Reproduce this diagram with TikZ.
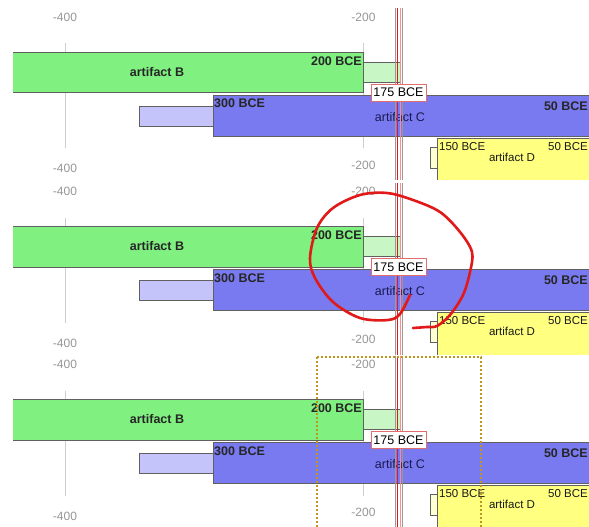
\documentclass[tikz,border=0pt]{standalone}
\usepackage{fontspec}
\setmainfont{Liberation Sans}
\definecolor{barG}{RGB}{128,240,128}
\definecolor{lightG}{RGB}{200,246,196}
\definecolor{barC}{RGB}{122,122,240}
\definecolor{lightC}{RGB}{196,196,250}
\definecolor{barY}{RGB}{255,255,128}
\definecolor{lightY}{RGB}{255,255,212}
\definecolor{edge}{RGB}{96,96,96}
\definecolor{gridc}{RGB}{205,205,205}
\definecolor{axisc}{RGB}{150,150,150}
\definecolor{navy}{RGB}{25,25,80}
\definecolor{markc}{RGB}{225,25,25}
\definecolor{goldc}{RGB}{190,150,30}
\definecolor{lblred}{RGB}{225,110,110}
\tikzset{
  gridln/.style={draw=gridc, line width=0.9pt},
  axislbl/.style={inner sep=0pt, text=axisc, font=\fontsize{12}{14}\selectfont},
  boldlbl/.style={inner sep=0pt, text=black!85, font=\fontsize{12.5}{14}\selectfont\bfseries},
  plainlbl/.style={inner sep=0pt, text=navy, font=\fontsize{12.5}{14}\selectfont},
  smalllbl/.style={inner sep=0pt, text=black!90, font=\fontsize{11.5}{13}\selectfont},
  barline/.style={draw=edge, line width=0.8pt},
  cursorgray/.style={draw=gray!80, line width=0.9pt},
  cursorred/.style={draw=markc, line width=0.8pt},
  cursorpink/.style={draw=red!45, line width=0.6pt},
  datebox/.style={draw=lblred, fill=white, line width=0.8pt, inner sep=0pt,
    minimum width=55pt, minimum height=17pt, font=\fontsize{12.5}{14}\selectfont},
  scribble/.style={draw=markc, line width=2.6pt, line cap=round, line join=round},
  selbox/.style={draw=goldc, line width=1.8pt, dash pattern=on 1.8pt off 2.2pt}
}
\newcommand\drawpanel[2]{%
\begin{scope}[shift={(0,#1)}]
 \begin{scope}
  \clip (0,7) rectangle (589,179.5);
  % grid
  \draw[gridln] (65,43) -- (65,148);
  \draw[gridln] (363,43) -- (363,148);
  \node[axislbl] (#2-t1) at (65,17) {-400};
  \node[axislbl] (#2-t2) at (363.5,17) {-200};
  \node[axislbl] (#2-b1) at (65,168.5) {-400};
  \node[axislbl] (#2-b2) at (363.5,165) {-200};
  % artifact B
  \fill[barG] (13,52) rectangle (363,92.5);
  \draw[barline] (13,52) -- (363,52) -- (363,92.5) -- (13,92.5);
  \draw[barline, fill=lightG] (363,62) rectangle (400,82);
  \node[boldlbl] (#2-B) at (157,72) {artifact B};
  \node[boldlbl, anchor=east] (#2-B1) at (362,61) {200 BCE};
  % artifact C
  \draw[barline, fill=lightC] (139,106) rectangle (213,126);
  \draw[barline, fill=barC] (213,95) rectangle (600,136);
  \node[boldlbl, anchor=west] (#2-C0) at (214,103.5) {300 BCE};
  \node[boldlbl, anchor=east] (#2-C1) at (588,106) {50 BCE};
  \node[plainlbl] (#2-C) at (400,117) {artifact C};
  % artifact D
  \draw[barline, fill=lightY] (430,147) rectangle (437.5,168);
  \draw[barline, fill=barY] (437.5,138) rectangle (600,182);
  \node[smalllbl, anchor=west] (#2-D0) at (439,146.5) {150 BCE};
  \node[smalllbl, anchor=east] (#2-D1) at (588,146.5) {50 BCE};
  \node[smalllbl] (#2-D) at (512,157) {artifact D};
  % cursor
  \draw[cursorgray] (395,8) -- (395,180);
  \draw[cursorgray] (402.5,8) -- (402.5,180);
  \draw[cursorred] (397.5,8) -- (397.5,180);
  \draw[cursorpink] (400,8) -- (400,180);
  \node[datebox] (#2-now) at (398.5,92.5) {175 BCE};
 \end{scope}
\end{scope}}
\begin{document}
\begin{tikzpicture}[x=1pt,y=-1pt]
\useasboundingbox[fill=white] (0,0) rectangle (589,527);
\drawpanel{0}{p1}
\drawpanel{174.5}{p2}
\drawpanel{347.5}{p3}
% hand-drawn circle in panel 2
\draw[scribble] plot[smooth, tension=0.55] coordinates {
 (410,295) (400,314) (388,320) (360,318) (333,302) (315,278) (310,258)
 (317,228) (333,208) (360,195) (387,193) (413,200) (440,212) (460,232)
 (472,252) (470,272) (463,295) (450,315) (437,326) (427,327) (413,328)};
% selection box in panel 3
\draw[selbox] (317,357) -- (481,357) -- (481,530);
\draw[selbox] (317,357) -- (317,530);
\end{tikzpicture}
\end{document}
